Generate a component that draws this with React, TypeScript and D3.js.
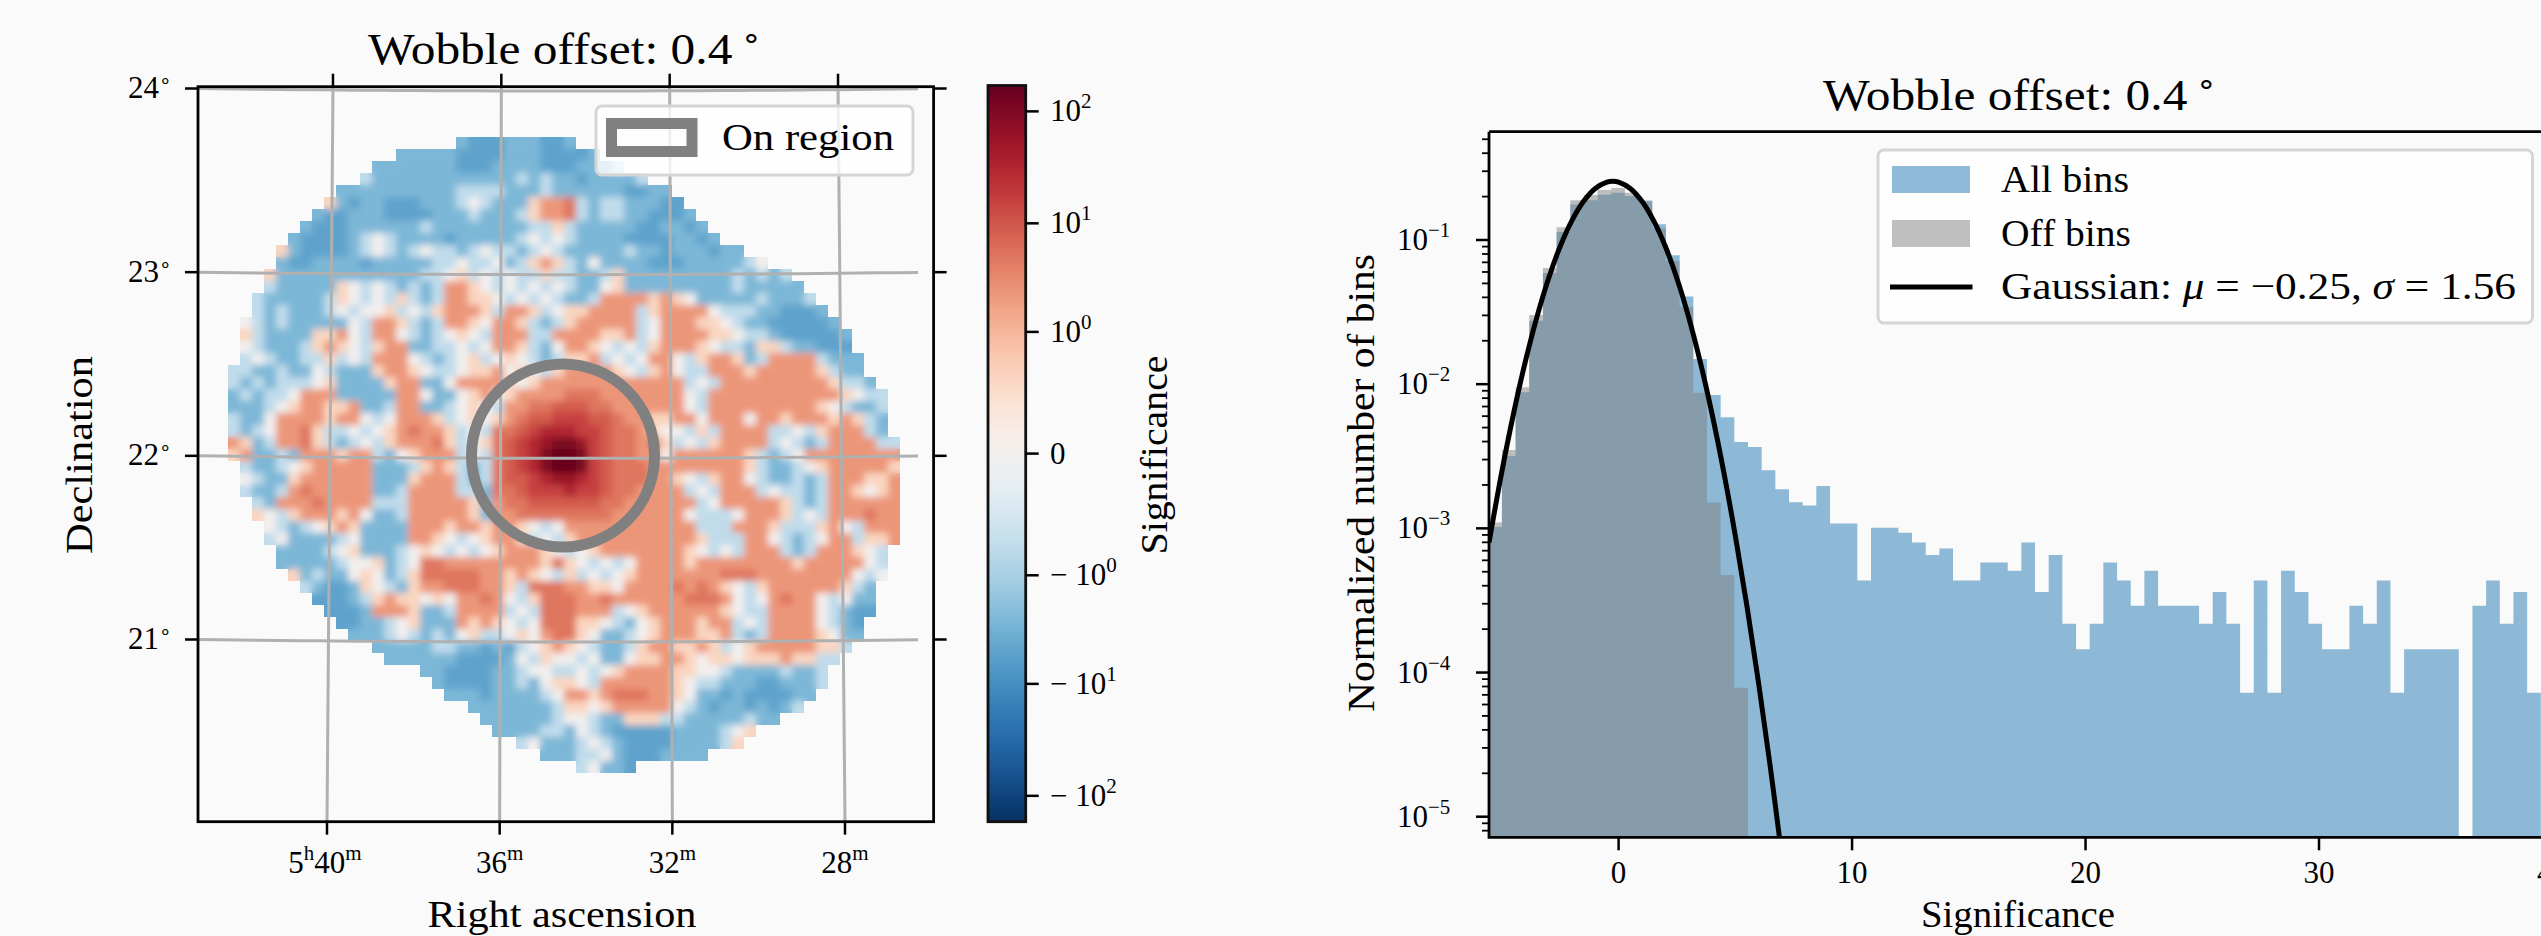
// App.tsx
import React from 'react';
import * as d3 from 'd3';

const W = 2541;
const H = 936;
const FONT = '"Liberation Serif", serif';
const BG = '#fafafa';

// ---- significance map, one string per row ----
// . outside  b/m/l blues  w zero  p/o/r oranges  R A B C D E source core
const levelValue: Record<string, number> = {
  b: -5, m: -2.6, l: -0.5, w: 0, p: 0.35, o: 2.4, r: 5, R: 9, A: 16, B: 32, C: 60, D: 110, E: 170,
};
const heatStart = [19,14,12,11,9,8,7,6,5,4,4,3,3,2,2,1,1,1,1,0,0,0,0,0,0,0,0,1,1,1,2,2,3,3,4,4,5,6,7,8,9,10,12,13,16,17,18,20,21,22,24,26,29];
const heatRows = [
  'mbbbmmmbbm',
  'mmmmmbbbbmmmbbbbm',
  'mmmmmmmbbbmmmmbbbmmml',
  'lmmmmmmmmmmmmlmlmmbmmmml',
  'mmmmmmmmmmllllmmmlmmmmmmbbmm',
  'pmbmmbbbmmmlwlmmm poor lm ll mmmbb',
  'mbbmmmbbbbmmmlmmml poor lmll mmbbbm',
  'mbbbmmmmmmlmmmmmmmm llpl mmmmmbbmmbm',
  'mbbbbm lwl mmmmbmmmmml wlw lmmmmbbbbmmbm',
  'pmbbbbm lwl m lwl lmlwl lm lwl mmmmmlmmbmmmbmm',
  'mbbmmmmbmmmmml lwllw mlp op lmw mmmmbbbmmmmm lw',
  'pmmmmmmmmmmmmllw p lwlwl lpl lmml p mmmmmmmmmlmlml',
  'lmmmmm pw l wlmlml oop wlwl wlw lmm wp mmmmmmmmmlmmmmm',
  'lmmmmml pw lwl plml oop pwlwlwl mml oooopo pw mmmmmlmmml',
  'lmlmmm lwlw wpl wl pooo pl oop lw ppo ooo lp oooo wlll mmbbbm',
  'wlml mmmmm wl oo p lml oo pw oop lml po oooo lw ooopp wlm mbbbbbm',
  'plmmmm ppo wl oo w lml wpwl ooo ll ooo o ppo lw oooo ppw llm bbbbbm',
  'wl mmml pop wl poo mml lwlw oop lmw o op wlwl pooo pwl lm ppl mmbbb',
  'lw lmml lp lwl ooo wlm lwpl wpw lml ppo lwlw oo wlp oop ml oooo lmmm',
  'llm mlmm wl mmmpo o pw llw ppo wp wlp oooo pwl po wll ooop ooooo plmm',
  'lmlm lllw p mmmm poo mmw ooo opwpoooooooo oo oo lwl oooo ooooo pllm',
  'mlml lw ooo mmmmm oo wmm wpo wpoooorrrooo ooo owl oooooo ooooo pwll',
  'mmml wp oop po mml oo mml wpw loorrRRRrroo ooo owl oooooo ooopw lmml',
  'lmmw ooo op oo wlw ooo pl wpw porRRAAARRro opp oow ooowoo pooop oplm',
  'lmlw oor pl lw lwp oroo pl wl rrRABBBAARrr opw wlpl oooo llwl poo olm',
  'op ml oorp lm lwlp ooor plwp rRABCDDCARrr orp lwlp oooo lwlm looo oll',
  'po mmlm ooo poo lmw pooo lwl rRABDEEDARrr oow ooo ooo plm lwo oooo ooo',
  'lmmlw poo ooo mmm lpop lml rRABDEEDARrr rooo ooooo pl mm lwpo oooop',
  'wlmm pooo ooo mmm pooo lml rRRABCCBARrr roop wlp oo wl mm lml oo oppo',
  'lmml oroo ooo mml oooo llm rrRAAABAARrr oooo lwl ooo lwl lml oo pwpo',
  'lm oooro ooo lll oooo op m orrRRRRRRrro oooo olw oooo op lml oo oooo',
  'pwl pooo pow mml oooo op m oorrrrrrrroo oooo wlllw ooo plw loo oroo',
  'wl mlwp op mmmm ooo poop oopwlwoooooo oooo olll ooo plll po wl ooo',
  'lw mmmm lw mmmm oo pwlwp ooplwlpooooo oooo op lll oo wlmlw oo lp po',
  'mmmm l wp mmm lwp wlwlw pooopwlwpooo oooo pw lwl ooo lml ooo pwl',
  'mmmm m lw wp ml w rroooo ooooprpwlwlw oooo pooo ooo oop oooo owl',
  'pml mm wpw ml p rrrrro opopwlplwlwp ooooo oorrr oooo oooo wlw',
  'lmbbm pw lm p oorrro oplrrrooppw oooo roro pw lpoo oooo plm',
  'bbbm l pop pwpw oor owlprrrooroo oooo rrro wlw oroo wlw mm',
  'bbbm ooo p mml ooo olwlrrrooolw poo oooop wll oooo wl mbb',
  'bbmm lwp mmm opo pwlwrrrppwlm wpo oopoo lwl oooo wl mb',
  'mmmlw lmlm wpl lwpworrpwmml wpo ooppo lml oooo pwm m',
  'mmmmmllmmb mblwpopwlmml poo ppop lwpo oooo ppl',
  'mmmmmmbbb bmwlpwwlwmmw ppo opwp pwp ppo ppl l',
  'mmbbbb mmlwwllwlwpo ooo ppw wlm mmml mml',
  'mbbbb mmlmwppwlooo ooo pwl lmm mbbm mml',
  'mmmb mmmmlwooporr roo pw mmbm bbbb mm',
  'mm mmmmmlppwpoo ooo wl mbmm bmbml',
  'm mmmmmlwwlmmp ppl lmmm mmlmm',
  'mmmmllmwlmbb bbbmm mmlwp',
  'lwmmmlwlmb bbbmm mmlp',
  'mmmllwmb bbmmmm',
  'lwmmb',
];

// ---- colour bar ticks ----
const cbTicks = [100, 10, 1, 0, -1, -10, -100];

// ---- sky map axes ----
const raTicks = [40, 36, 32, 28];
const decTicks = [24, 23, 22, 21];

// ---- significance histogram, one value per bin ----
const binStart = -5.583;
const binWidth = 0.5855;
const allBins = [
  1.02e-3, 3.18e-3, 8.79e-3, 0.0275, 0.059, 0.1136, 0.176, 0.189, 0.206, 0.213, 0.202, 0.188, 0.1285,
  0.0783, 0.0405, 0.01496, 0.00841, 0.0059, 0.00397, 0.00367, 0.00253, 0.00187, 0.00152, 0.00144, 0.00197,
  0.00108, 0.00108, 4.35e-4, 0.00101, 0.00101, 9.33e-4, 7.98e-4, 6.53e-4, 7.25e-4, 4.35e-4, 4.35e-4, 5.8e-4,
  5.8e-4, 5.08e-4, 7.98e-4, 3.62e-4, 6.53e-4, 2.18e-4, 1.45e-4, 2.18e-4, 5.8e-4, 4.35e-4, 2.9e-4, 5.08e-4,
  2.9e-4, 2.9e-4, 2.9e-4, 2.18e-4, 3.62e-4, 2.18e-4, 7.25e-5, 4.35e-4, 7.25e-5, 5.08e-4, 3.62e-4, 2.18e-4,
  1.45e-4, 1.45e-4, 2.9e-4, 2.18e-4, 4.35e-4, 7.25e-5, 1.45e-4, 1.45e-4, 1.45e-4, 1.45e-4, 0, 2.9e-4,
  4.35e-4, 2.18e-4, 3.62e-4, 7.25e-5,
];
const offBins = [
  1.1e-3, 3.5e-3, 9.52e-3, 0.0302, 0.064, 0.1225, 0.189, 0.205, 0.2223, 0.2296, 0.2128, 0.185, 0.1205,
  0.0715, 0.0345, 0.00873, 0.00151, 4.75e-4, 7.85e-5,
];
const gaussX = [-5.55, -5, -4.5, -4, -3.5, -3, -2.5, -2, -1.5, -1, -0.5, -0.25, 0, 0.5, 1, 1.5, 2, 2.5, 3, 3.5, 4, 4.5, 5, 5.5, 6, 6.5, 7];
const gaussY = [
  7.98e-4, 2.48e-3, 6.25e-3, 0.01422, 0.0292, 0.0541, 0.0904, 0.1363, 0.1855, 0.2278, 0.2524, 0.2557, 0.2524,
  0.2278, 0.1855, 0.1363, 0.0904, 0.0541, 0.0292, 0.01422, 6.25e-3, 2.48e-3, 8.88e-4, 2.87e-4, 8.36e-5, 2.2e-5, 5.2e-6,
];
const histXTicks = [0, 10, 20, 30, 40];
const histYTicks = [-1, -2, -3, -4, -5];

// frame positions
const map = { left: 198, right: 933.6, top: 86.7, bottom: 821.7 };
const bar = { left: 988, right: 1025.7, top: 85.5, bottom: 821.7 };
const hist = { left: 1489, right: 2600, top: 131.7, bottom: 837.3 };

// scales
const colX = d3.scaleLinear().domain([0, 56]).range([228, 900]);
const rowY = d3.scaleLinear().domain([0, 53]).range([137, 773]);
const norm = d3.scaleSymlog().constant(0.09).domain([-170, 170]).range([0, 1]);
const cbY = d3.scaleSymlog().constant(0.09).domain([-170, 170]).range([bar.bottom, bar.top]);
const heatColor = (v: number) => d3.interpolateRdBu(1 - norm(v));

const raX = d3.scaleLinear().domain([40, 28]).range([327, 845]);
const decY = d3.scaleLinear().domain([24, 21]).range([91, 642]);
const RA_PIVOT = 566;
const raTop = (ra: number) => RA_PIVOT + (raX(ra) - RA_PIVOT) * 0.975;
const decSag = (x: number) => 2.5 * ((x - RA_PIVOT) / 368) ** 2;

const hx = d3.scaleLinear().domain([0, 30]).range([1618.6, 2319]);
const hy = d3.scaleLog().domain([1e-5, 1e-1]).range([816.7, 240]);

const binArea = (values: number[]) => {
  const pts = values.map((v, i) => [binStart + i * binWidth, v]);
  pts.push([binStart + values.length * binWidth, values[values.length - 1]]);
  return d3
    .area<number[]>()
    .x((d) => hx(d[0]))
    .y0(hist.bottom)
    .y1((d) => (d[1] > 0 ? hy(d[1]) : hist.bottom))
    .curve(d3.curveStepAfter)(pts) as string;
};

const gaussLine = d3
  .line<number>()
  .x((d) => hx(d))
  .y((_, i) => hy(gaussY[i]))
  .curve(d3.curveCatmullRom)(gaussX) as string;

const decLine = d3
  .line<number>()
  .x((x) => x)
  .curve(d3.curveLinear);

function Txt(props: any) {
  const { x, y, size = 31, anchor = 'start', len, rotate, children } = props;
  return (
    <text
      x={x}
      y={y}
      fontSize={size}
      textAnchor={anchor}
      fontFamily={FONT}
      fill="#000"
      textLength={len}
      lengthAdjust={len ? 'spacingAndGlyphs' : undefined}
      transform={rotate ? `rotate(${rotate} ${x} ${y})` : undefined}
    >
      {children}
    </text>
  );
}

const sup = (s: string, size = 21, dy = -13) => (
  <tspan dy={dy} fontSize={size}>
    {s}
  </tspan>
);

function Title({ x, y }: { x: number; y: number }) {
  return (
    <Txt x={x} y={y} size={45} anchor="middle" len={394}>
      Wobble offset: 0.4
      <tspan dy={-16} fontSize={30} dx={8}>
        ∘
      </tspan>
    </Txt>
  );
}

function SkyMap() {
  const cells: { x: number; y: number; v: number }[] = [];
  heatRows.forEach((row, r) => {
    row
      .replace(/ /g, '')
      .split('')
      .forEach((ch, i) => cells.push({ x: heatStart[r] + i, y: r, v: levelValue[ch] }));
  });
  const cw = colX(1) - colX(0);
  const ch = rowY(1) - rowY(0);
  const heatRects = cells.map((c) => (
    <rect key={`${c.x}-${c.y}`} x={colX(c.x)} y={rowY(c.y)} width={cw} height={ch} fill={heatColor(c.v)} />
  ));
  const xs = d3.range(map.left, map.right + 1, 20);
  return (
    <g>
      <Title x={565} y={64} />
      <defs>
        <filter id="heat-soft" x="0" y="0" width="1" height="1">
          <feGaussianBlur stdDeviation="3.5" />
        </filter>
        <clipPath id="heat-clip">{heatRects}</clipPath>
      </defs>
      <g shapeRendering="crispEdges">{heatRects}</g>
      <g clipPath="url(#heat-clip)">
        <g filter="url(#heat-soft)" shapeRendering="crispEdges">
          {heatRects}
        </g>
      </g>
      {/* coordinate grid */}
      {raTicks.map((ra) => (
        <line key={ra} x1={raTop(ra)} y1={map.top} x2={raX(ra)} y2={map.bottom} stroke="#b0b0b0" strokeWidth={3} />
      ))}
      {decTicks.map((dec) => (
        <path
          key={dec}
          fill="none"
          stroke="#b0b0b0"
          strokeWidth={3}
          d={decLine.y((x) => decY(dec) - decSag(x))(xs) as string}
        />
      ))}
      {/* on region */}
      <circle cx={563} cy={455.5} r={91.5} fill="none" stroke="#808080" strokeWidth={11} />
      <rect x={596} y={106} width={317} height={69} rx={6} fill="#fff" fillOpacity={0.8} stroke="#d5d5d5" strokeWidth={3} />
      <rect x={611.5} y={123.5} width={80.5} height={28} fill="none" stroke="#808080" strokeWidth={11} />
      <Txt x={722} y={150} size={38} len={172}>
        On region
      </Txt>
      {/* frame and ticks */}
      <rect x={map.left} y={map.top} width={map.right - map.left} height={map.bottom - map.top} fill="none" stroke="#000" strokeWidth={2.8} />
      {raTicks.map((ra) => (
        <g key={ra} stroke="#000" strokeWidth={2.5}>
          <line x1={raX(ra)} x2={raX(ra)} y1={map.bottom} y2={map.bottom + 13} />
          <line x1={raTop(ra)} x2={raTop(ra)} y1={map.top} y2={map.top - 13} />
        </g>
      ))}
      {decTicks.map((dec) => (
        <g key={dec} stroke="#000" strokeWidth={2.5}>
          <line x1={map.left - 13} x2={map.left} y1={decY(dec) - 2.5} y2={decY(dec) - 2.5} />
          <line x1={map.right} x2={map.right + 13} y1={decY(dec) - 2.5} y2={decY(dec) - 2.5} />
        </g>
      ))}
      {decTicks.map((dec) => (
        <Txt key={dec} x={172} y={decY(dec) + 7} size={31} anchor="end">
          {dec}
          {sup('∘', 20, -10)}
        </Txt>
      ))}
      {raTicks.map((ra, i) => (
        <Txt key={ra} x={raX(ra) + (i === 0 ? -2 : 0)} y={873} size={31} anchor="middle">
          {i === 0 ? (
            <>
              5{sup('h')}
              <tspan dy={13}>40</tspan>
            </>
          ) : (
            ra
          )}
          {sup('m')}
        </Txt>
      ))}
      <Txt x={562} y={927} size={38} anchor="middle" len={269}>
        Right ascension
      </Txt>
      <Txt x={92} y={455} size={38} anchor="middle" len={198} rotate={-90}>
        Declination
      </Txt>
    </g>
  );
}

function ColorBar() {
  const steps = d3.range(0, 256);
  const h = (bar.bottom - bar.top) / 256;
  const label = (v: number) => {
    if (v === 0) return '0';
    const exp = Math.round(Math.log10(Math.abs(v)));
    return (
      <>
        {v < 0 ? '− ' : ''}10{sup(String(exp))}
      </>
    );
  };
  return (
    <g>
      <g shapeRendering="crispEdges">
        {steps.map((s) => (
          <rect key={s} x={bar.left} y={bar.bottom - (s + 1) * h} width={bar.right - bar.left} height={h + 0.6} fill={d3.interpolateRdBu(1 - (s + 0.5) / 256)} />
        ))}
      </g>
      <rect x={bar.left} y={bar.top} width={bar.right - bar.left} height={bar.bottom - bar.top} fill="none" stroke="#111" strokeWidth={2.8} />
      {cbTicks.map((v) => (
        <g key={v}>
          <line x1={bar.right} x2={bar.right + 13} y1={cbY(v)} y2={cbY(v)} stroke="#000" strokeWidth={2.5} />
          <Txt x={1050} y={cbY(v) + 10} size={31}>
            {label(v)}
          </Txt>
        </g>
      ))}
      <Txt x={1167} y={455} size={38} anchor="middle" len={199} rotate={-90}>
        Significance
      </Txt>
    </g>
  );
}

function Histogram() {
  const minor: number[] = [];
  histYTicks.concat([-6, 0]).forEach((d) => {
    d3.range(2, 10).forEach((k) => minor.push(k * 10 ** d));
  });
  const yMinor = minor.filter((v) => hy(v) > hist.top && hy(v) < hist.bottom);
  return (
    <g>
      <Title x={2020} y={110} />
      <defs>
        <clipPath id="hist-clip">
          <rect x={hist.left} y={hist.top} width={hist.right - hist.left} height={hist.bottom - hist.top} />
        </clipPath>
      </defs>
      <g clipPath="url(#hist-clip)">
        <path d={binArea(allBins)} fill="#1f77b4" fillOpacity={0.5} />
        <path d={binArea(offBins)} fill="#808080" fillOpacity={0.5} />
        <path d={gaussLine} fill="none" stroke="#000" strokeWidth={5} />
      </g>
      <path
        d={`M${hist.left},${hist.top}H${hist.right}M${hist.left},${hist.top}V${hist.bottom}H${hist.right}`}
        fill="none"
        stroke="#000"
        strokeWidth={2.8}
      />
      {histXTicks.map((t) => (
        <g key={t}>
          <line x1={hx(t)} x2={hx(t)} y1={hist.bottom} y2={hist.bottom + 13} stroke="#000" strokeWidth={2.5} />
          <Txt x={hx(t)} y={883} size={31} anchor="middle">
            {t}
          </Txt>
        </g>
      ))}
      {yMinor.map((v) => (
        <line key={v} x1={hist.left - 7} x2={hist.left} y1={hy(v)} y2={hy(v)} stroke="#000" strokeWidth={1.8} />
      ))}
      {histYTicks.map((d) => (
        <g key={d}>
          <line x1={hist.left - 13} x2={hist.left} y1={hy(10 ** d)} y2={hy(10 ** d)} stroke="#000" strokeWidth={2.5} />
          <Txt x={1397} y={hy(10 ** d) + 10} size={31}>
            10{sup(`−${-d}`)}
          </Txt>
        </g>
      ))}
      <Txt x={2018} y={927} size={38} anchor="middle" len={194}>
        Significance
      </Txt>
      <Txt x={1374} y={483} size={38} anchor="middle" len={458} rotate={-90}>
        Normalized number of bins
      </Txt>
      {/* legend */}
      <rect x={1878} y={150} width={654.5} height={173} rx={6} fill="#fff" fillOpacity={0.8} stroke="#d5d5d5" strokeWidth={3} />
      <rect x={1892} y={166} width={78} height={27} fill="#1f77b4" fillOpacity={0.5} />
      <rect x={1892} y={220} width={78} height={27} fill="#808080" fillOpacity={0.5} />
      <line x1={1890} x2={1972.5} y1={287} y2={287} stroke="#000" strokeWidth={5} />
      <Txt x={2001} y={192} size={38} len={128}>
        All bins
      </Txt>
      <Txt x={2001} y={246} size={38} len={130}>
        Off bins
      </Txt>
      <Txt x={2001} y={299} size={38} len={515}>
        Gaussian: <tspan fontStyle="italic">μ</tspan> = −0.25, <tspan fontStyle="italic">σ</tspan> = 1.56
      </Txt>
    </g>
  );
}

export default function App() {
  return (
    <svg width={W} height={H} viewBox={`0 0 ${W} ${H}`} style={{ position: 'absolute', left: 0, top: 0, display: 'block' }}>
      <rect width={W} height={H} fill={BG} />
      <SkyMap />
      <ColorBar />
      <Histogram />
    </svg>
  );
}
